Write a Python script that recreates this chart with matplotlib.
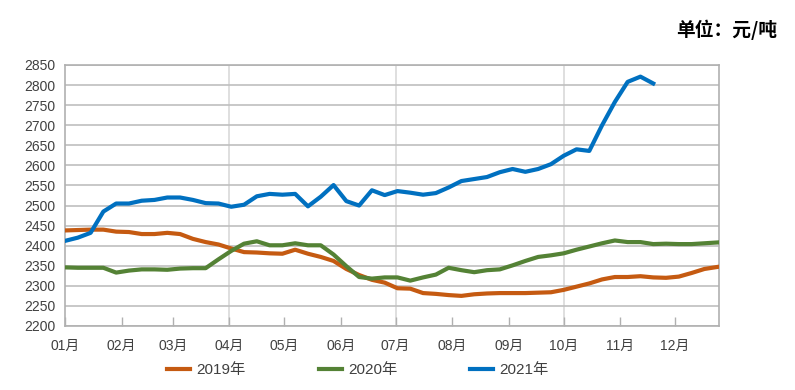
import numpy as np
import matplotlib
matplotlib.use('Agg')
import matplotlib.pyplot as plt

plt.rcParams['font.family'] = ['Liberation Sans', 'Noto Sans CJK SC']

# weekly prices (yuan/ton), one value per week from early January
price2019 = [2438, 2439, 2440, 2440, 2435, 2434, 2429, 2429, 2432, 2429,
             2417, 2409, 2403, 2393, 2384, 2383, 2381, 2380, 2390, 2380,
             2372, 2362, 2342, 2327, 2315, 2308, 2294, 2293, 2282, 2280,
             2277, 2275, 2279, 2281, 2282, 2282, 2282, 2283, 2284, 2290,
             2298, 2306, 2316, 2322, 2322, 2324, 2321, 2320, 2323, 2332,
             2342, 2347]
price2020 = [2346, 2345, 2345, 2345, 2333, 2338, 2341, 2341, 2340, 2343,
             2344, 2344, 2366, 2387, 2405, 2411, 2401, 2401, 2406, 2401,
             2401, 2378, 2349, 2322, 2318, 2321, 2321, 2313, 2321, 2328,
             2345, 2339, 2334, 2339, 2341, 2351, 2362, 2372, 2376, 2381,
             2390, 2398, 2406, 2413, 2409, 2409, 2404, 2405, 2404, 2404,
             2406, 2408]
price2021 = [2412, 2420, 2432, 2485, 2505, 2505, 2512, 2514, 2520, 2520,
             2514, 2506, 2505, 2497, 2502, 2523, 2529, 2527, 2529, 2498,
             2522, 2551, 2511, 2500, 2538, 2526, 2536, 2532, 2527, 2531,
             2545, 2561, 2566, 2571, 2583, 2591, 2584, 2591, 2603, 2624,
             2640, 2636, 2700, 2758, 2808, 2821, 2804]

monthLabels = ['01月', '02月', '03月', '04月', '05月', '06月',
               '07月', '08月', '09月', '10月', '11月', '12月']
monthStartDay = [0, 31, 59, 90, 120, 151, 181, 212, 243, 273, 304, 334]

series = [
    ('2019年', price2019, '#C55A11'),
    ('2020年', price2020, '#548235'),
    ('2021年', price2021, '#0070C0'),
]

fig = plt.figure(figsize=(7.95, 3.9), dpi=100)
ax = fig.add_axes([65 / 795, 1 - 326 / 390, 654 / 795, 261 / 390])

for name, vals, col in series:
    days = np.arange(len(vals)) * 7
    ax.plot(days, vals, color=col, lw=3.0, label=name, solid_joinstyle='round', zorder=3)

ax.set_xlim(0, 358)
ax.set_ylim(2200, 2850)
ax.set_yticks(np.arange(2200, 2851, 50))
ax.set_xticks(monthStartDay)
ax.set_xticklabels(monthLabels)

ax.yaxis.grid(True, color='#bfbfbf', lw=1.2, zorder=0)
for d in [90, 181, 273]:
    ax.axvline(d, color='#d9d9d9', lw=1.2, zorder=0)

for sp in ax.spines.values():
    sp.set_color('#b0b0b0')
    sp.set_linewidth(1.2)

ax.tick_params(axis='y', length=0, labelsize=10, labelcolor='#404040', pad=7)
ax.tick_params(axis='x', direction='in', length=6.5, width=1.0, color='#b0b0b0',
               labelsize=10, labelcolor='#404040', pad=9)

fig.legend(loc='center', bbox_to_anchor=(358 / 795, 1 - 370 / 390), ncol=3,
           frameon=False, fontsize=11, handlelength=1.5, handletextpad=0.4,
           columnspacing=4.8, labelcolor='#404040')

fig.text(777 / 795, 1 - 30 / 390, '单位：元/吨', ha='right', va='center',
         fontsize=13.5, fontweight='bold', family=['Noto Sans CJK SC', 'DejaVu Sans'])

fig.savefig('out.png', dpi=100)
